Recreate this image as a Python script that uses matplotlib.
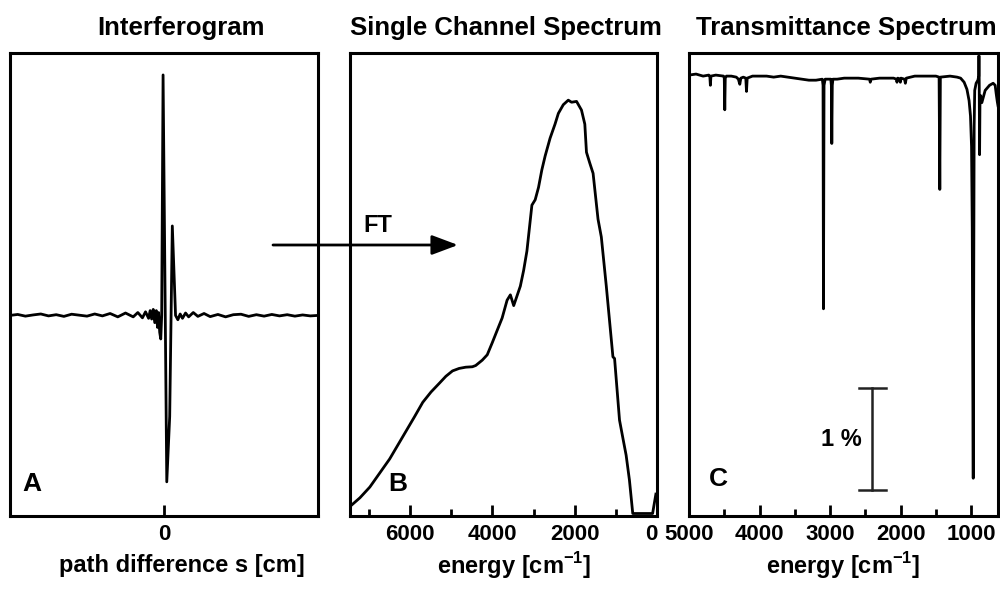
import numpy as np
import matplotlib
matplotlib.use("Agg")
import matplotlib.pyplot as plt
from matplotlib.ticker import FixedLocator

plt.rcParams['font.family'] = ['Liberation Sans', 'DejaVu Sans']
plt.rcParams['font.weight'] = 'bold'
plt.rcParams['mathtext.fontset'] = 'custom'
plt.rcParams['mathtext.bf'] = 'Liberation Sans:bold'

# --- A: interferogram (path difference, arbitrary units) ---
s_path = [-1.00, -0.95, -0.90, -0.85, -0.80, -0.75, -0.70, -0.65, -0.60, -0.55,
          -0.50, -0.45, -0.40, -0.35, -0.30, -0.25, -0.20, -0.17, -0.14, -0.12,
          -0.10, -0.09, -0.08, -0.07, -0.06, -0.05, -0.042, -0.035, -0.028, -0.021,
          -0.015, -0.006, 0.018, 0.037, 0.054, 0.075, 0.090, 0.105, 0.12, 0.14,
          0.16, 0.19, 0.22, 0.26, 0.30, 0.35, 0.40, 0.45, 0.50, 0.55,
          0.60, 0.65, 0.70, 0.75, 0.80, 0.85, 0.90, 0.95, 1.00]
signal = [0.000, 0.004, -0.003, 0.002, 0.006, -0.002, 0.003, -0.004, 0.005, 0.001,
          -0.003, 0.006, -0.002, 0.008, -0.006, 0.010, -0.006, 0.012, -0.010, 0.015,
          -0.012, 0.020, -0.015, 0.025, -0.030, 0.020, -0.050, 0.012, -0.070, -0.098,
          0.000, 1.000, -0.692, -0.420, 0.372, 0.000, -0.018, 0.006, -0.012, 0.010,
          -0.006, 0.012, -0.004, 0.008, -0.005, 0.004, -0.006, 0.003, 0.005, -0.004,
          0.003, -0.003, 0.004, -0.002, 0.003, -0.003, 0.002, -0.002, 0.000]

# --- B: single channel spectrum ---
energy_b = [7460, 7219, 6978, 6737, 6496, 6295, 6094, 5893, 5692, 5491,
            5290, 5130, 4969, 4808, 4647, 4487, 4406, 4246, 4125, 4004,
            3884, 3763, 3643, 3563, 3482, 3321, 3241, 3161, 3040, 2960,
            2879, 2799, 2718, 2598, 2478, 2397, 2277, 2156, 2076, 1955,
            1835, 1754, 1714, 1634, 1553, 1433, 1353, 1232, 1152, 1071,
            1031, 911, 830, 750, 670, 589, 107, 27]
intensity_b = [0.017, 0.038, 0.064, 0.098, 0.132, 0.166, 0.200, 0.234, 0.269, 0.294,
               0.315, 0.332, 0.345, 0.351, 0.354, 0.355, 0.358, 0.371, 0.384, 0.413,
               0.443, 0.473, 0.516, 0.529, 0.503, 0.550, 0.588, 0.635, 0.746, 0.759,
               0.789, 0.831, 0.865, 0.908, 0.942, 0.968, 0.989, 1.000, 0.995, 0.997,
               0.976, 0.942, 0.874, 0.848, 0.823, 0.712, 0.669, 0.550, 0.465, 0.379,
               0.375, 0.226, 0.183, 0.141, 0.081, 0.000, 0.000, 0.047]

# --- C: transmittance spectrum [%] ---
energy_c = [5000, 4900, 4800, 4720, 4705, 4697, 4689, 4620, 4510, 4500,
            4493, 4486, 4470, 4400, 4330, 4300, 4280, 4265, 4230, 4195,
            4185, 4175, 4100, 4000, 3900, 3800, 3700, 3600, 3500, 3400,
            3300, 3200, 3110, 3100, 3094, 3086, 3070, 2990, 2982, 2976,
            2969, 2960, 2900, 2800, 2700, 2600, 2440, 2431, 2420, 2300,
            2200, 2100, 2060, 2052, 2040, 2010, 2004, 1995, 1945, 1933,
            1920, 1800, 1700, 1600, 1500, 1455, 1445, 1437, 1300, 1200,
            1150, 1100, 1060, 1030, 1010, 995, 985, 975, 971, 966,
            958, 950, 930, 905, 893, 890, 886, 881, 876, 868,
            849, 802, 740, 689, 660, 646, 630, 620]
trans_c = [100.00, 100.01, 99.99, 100.00, 99.99, 99.90, 99.99, 100.00, 99.99, 99.97,
           99.66, 99.97, 99.99, 99.99, 99.98, 99.96, 99.91, 99.97, 99.98, 99.97,
           99.84, 99.97, 99.99, 99.99, 99.99, 99.98, 99.99, 99.98, 99.97, 99.96,
           99.95, 99.95, 99.96, 99.90, 97.71, 99.90, 99.96, 99.96, 99.90, 99.33,
           99.90, 99.96, 99.96, 99.97, 99.97, 99.97, 99.96, 99.93, 99.96, 99.97,
           99.97, 99.97, 99.96, 99.93, 99.97, 99.96, 99.93, 99.97, 99.96, 99.92,
           99.97, 99.99, 99.99, 99.99, 99.99, 99.98, 98.88, 99.98, 99.99, 99.98,
           99.97, 99.93, 99.86, 99.75, 99.60, 99.30, 98.50, 96.60, 96.05, 97.50,
           99.50, 99.85, 99.92, 99.95, 99.99, 100.19, 99.90, 99.22, 99.70, 99.80,
           99.73, 99.85, 99.90, 99.92, 99.90, 99.82, 99.74, 99.70]

scale_bar = 1.0  # percent

fig = plt.figure(figsize=(10, 5.92), dpi=100)
bottom, height = 0.1284, 0.782
ax_a = fig.add_axes([0.010, bottom, 0.308, height])
ax_b = fig.add_axes([0.350, bottom, 0.307, height])
ax_c = fig.add_axes([0.689, bottom, 0.309, height])

lw = 2.0
tick_fs = 16
label_fs = 17
for ax in (ax_a, ax_b, ax_c):
    ax.set_facecolor('none')
    for sp in ax.spines.values():
        sp.set_linewidth(2.2)
    ax.tick_params(axis='x', which='major', direction='in', length=8, width=2,
                   labelsize=tick_fs, pad=6, top=False)
    ax.tick_params(axis='x', which='minor', direction='in', length=5, width=2, top=False)
    ax.set_yticks([])

# interferogram
ax_a.plot(s_path, signal, color='k', lw=lw)
ax_a.set_xlim(-1.0, 1.0)
ax_a.set_ylim(-0.834, 1.091)
ax_a.set_xticks([0])
ax_a.set_xticklabels(['0'])
ax_a.text(0.04, 0.055, 'A', transform=ax_a.transAxes, fontsize=19, fontweight='bold')

# single channel
ax_b.plot(energy_b, intensity_b, color='k', lw=lw)
ax_b.set_xlim(7460, 0)
ax_b.set_ylim(-0.006, 1.114)
ax_b.set_xticks([6000, 4000, 2000, 0])
ax_b.xaxis.set_minor_locator(FixedLocator([7000, 5000, 3000, 1000]))
ax_b.get_xticklabels()[-1].set_horizontalalignment('right')
ax_b.text(0.125, 0.055, 'B', transform=ax_b.transAxes, fontsize=19, fontweight='bold')

# transmittance
ax_c.plot(energy_c, trans_c, color='k', lw=lw)
ax_c.set_xlim(5000, 620)
ax_c.set_ylim(95.68, 100.216)
ax_c.set_xticks([5000, 4000, 3000, 2000, 1000])
ax_c.xaxis.set_minor_locator(FixedLocator([4500, 3500, 2500, 1500]))
ax_c.text(0.065, 0.065, 'C', transform=ax_c.transAxes, fontsize=19, fontweight='bold')

# 1 % scale bar
bar_x, bar_lo = 2400, 95.93
ax_c.plot([bar_x, bar_x], [bar_lo, bar_lo + scale_bar], color='#222222', lw=1.8)
for yy in (bar_lo, bar_lo + scale_bar):
    ax_c.plot([bar_x + 190, bar_x - 190], [yy, yy], color='#222222', lw=1.8)
ax_c.text(bar_x + 150, bar_lo + scale_bar / 2, '1 %', ha='right', va='center',
          fontsize=label_fs, fontweight='bold')

# axis labels
ax_a.set_xlabel('path difference s [cm]', fontsize=label_fs, fontweight='bold')
ax_b.set_xlabel(r'energy [cm$^{\mathbf{-1}}$]', fontsize=label_fs, fontweight='bold')
ax_c.set_xlabel(r'energy [cm$^{\mathbf{-1}}$]', fontsize=label_fs, fontweight='bold')
for ax, xc in ((ax_a, 0.558), (ax_b, 0.534), (ax_c, 0.50)):
    ax.xaxis.set_label_coords(xc, -0.108)
    ax.xaxis.label.set_verticalalignment('center')

# titles
title_y = 1 - 28 / 592
fig.text(0.181, title_y, 'Interferogram', ha='center', va='center', fontsize=18.5, fontweight='bold')
fig.text(0.506, title_y, 'Single Channel Spectrum', ha='center', va='center', fontsize=18.5, fontweight='bold')
fig.text(0.846, title_y, 'Transmittance Spectrum', ha='center', va='center', fontsize=18.5, fontweight='bold')

# FT arrow between panels
ax_b.annotate('', xy=(0.458, 1 - 245 / 592), xytext=(0.273, 1 - 245 / 592),
              xycoords='figure fraction', textcoords='figure fraction',
              arrowprops=dict(arrowstyle='-|>,head_length=0.8,head_width=0.3',
                              mutation_scale=20, lw=2, color='k',
                              shrinkA=0, shrinkB=0))
fig.text(0.378, 1 - 226 / 592, 'FT', ha='center', va='center', fontsize=label_fs, fontweight='bold')

fig.savefig('out.png', dpi=100)
